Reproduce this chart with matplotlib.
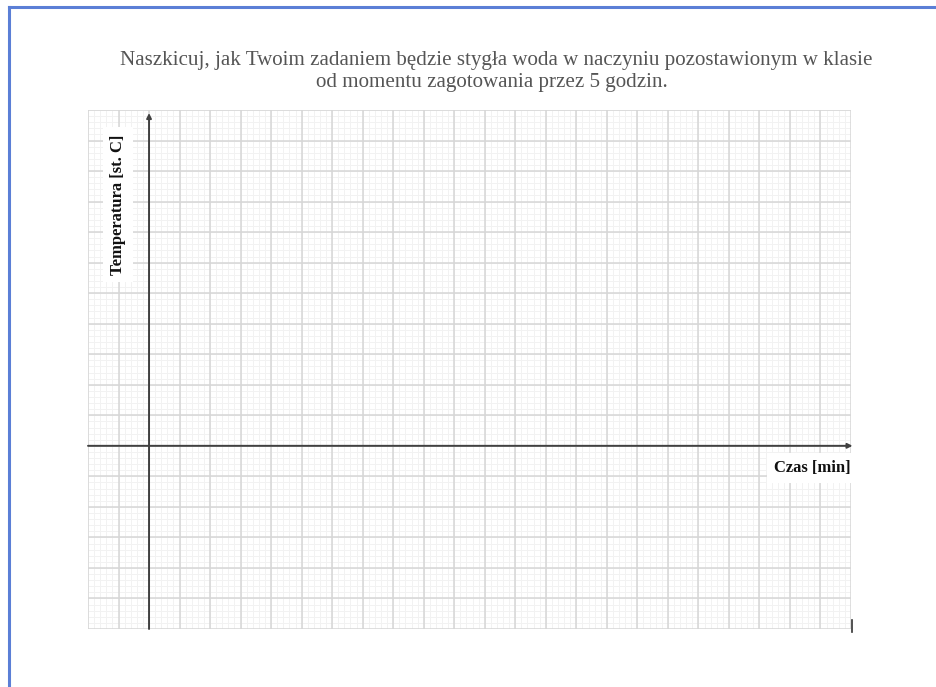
import numpy as np
import matplotlib
matplotlib.use("Agg")
import matplotlib.pyplot as plt
from matplotlib.lines import Line2D

# worksheet text
title_lines = ["Naszkicuj, jak Twoim zadaniem będzie stygła woda w naczyniu pozostawionym w klasie",
               "od momentu zagotowania przez 5 godzin."]
ylabel = "Temperatura [st. C]"
xlabel = "Czas [min]"

# grid extent in cells (axes cross at 0,0)
x_range = [-2, 23]
y_range = [-6, 11]
minor_per_cell = 5

W, H = 936, 687
fig = plt.figure(figsize=(W / 100, H / 100), dpi=100)
fig.patch.set_facecolor("white")

# blue page frame
frame_col = "#5b7fd6"
fig.add_artist(Line2D([8.5 / W, 1.0], [1 - 6.5 / H, 1 - 6.5 / H], color=frame_col, lw=2.2))
fig.add_artist(Line2D([8.5 / W, 8.5 / W], [0, 1 - 6.5 / H], color=frame_col, lw=2.2))

# grid paper area
gl, gr, gt, gb = 88, 851, 110, 629
ax = fig.add_axes([gl / W, 1 - gb / H, (gr - gl) / W, (gb - gt) / H])
ax.set_xlim(*x_range)
ax.set_ylim(*y_range)
for s in ax.spines.values():
    s.set_visible(False)
ax.set_xticks([])
ax.set_yticks([])

xs_minor = np.arange(x_range[0], x_range[1] + 1e-9, 1 / minor_per_cell)
ys_minor = np.arange(y_range[0], y_range[1] + 1e-9, 1 / minor_per_cell)
for x in xs_minor:
    ax.axvline(x, color="#f2f2f2", lw=0.7, zorder=1)
for y in ys_minor:
    ax.axhline(y, color="#f2f2f2", lw=0.7, zorder=1)
for x in range(x_range[0], x_range[1] + 1):
    ax.axvline(x, color="#d6d6d6", lw=1.1, zorder=2)
for y in range(y_range[0], y_range[1] + 1):
    ax.axhline(y, color="#d6d6d6", lw=1.1, zorder=2)

# axes with arrows
ax.annotate("", xy=(x_range[1] + 0.05, 0), xytext=(x_range[0], 0),
            arrowprops=dict(arrowstyle="-|>", color="#404040", lw=1.4,
                            mutation_scale=7, shrinkA=0, shrinkB=0),
            annotation_clip=False, zorder=5)
ax.annotate("", xy=(0, y_range[1] - 0.1), xytext=(0, y_range[0]),
            arrowprops=dict(arrowstyle="-|>", color="#404040", lw=1.4,
                            mutation_scale=7, shrinkA=0, shrinkB=0),
            annotation_clip=False, zorder=5)
# small end mark at bottom right
ax.plot([x_range[1] + 0.03, x_range[1] + 0.03], [y_range[0] + 0.3, y_range[0] - 0.1],
        color="#333333", lw=1.2, clip_on=False, zorder=5)

bbox = dict(facecolor="white", edgecolor="none", pad=5)
ax.text(-1.02, 7.9, ylabel, rotation=90, ha="center", va="center",
        fontsize=12, fontweight="bold", family="Liberation Serif",
        color="#111111", bbox=bbox, zorder=6)
ax.text(x_range[1] - 0.02, -0.72, xlabel, ha="right", va="center",
        fontsize=12, fontweight="bold", family="Liberation Serif",
        color="#111111", bbox=bbox, zorder=6)

# title
fig.text(496 / W, 1 - 60 / H, title_lines[0], ha="center", va="center",
         fontsize=15.1, family="Liberation Serif", color="#555555")
fig.text(492 / W, 1 - 83 / H, title_lines[1], ha="center", va="center",
         fontsize=15.1, family="Liberation Serif", color="#555555")

fig.savefig("out.png", dpi=100, facecolor="white")
